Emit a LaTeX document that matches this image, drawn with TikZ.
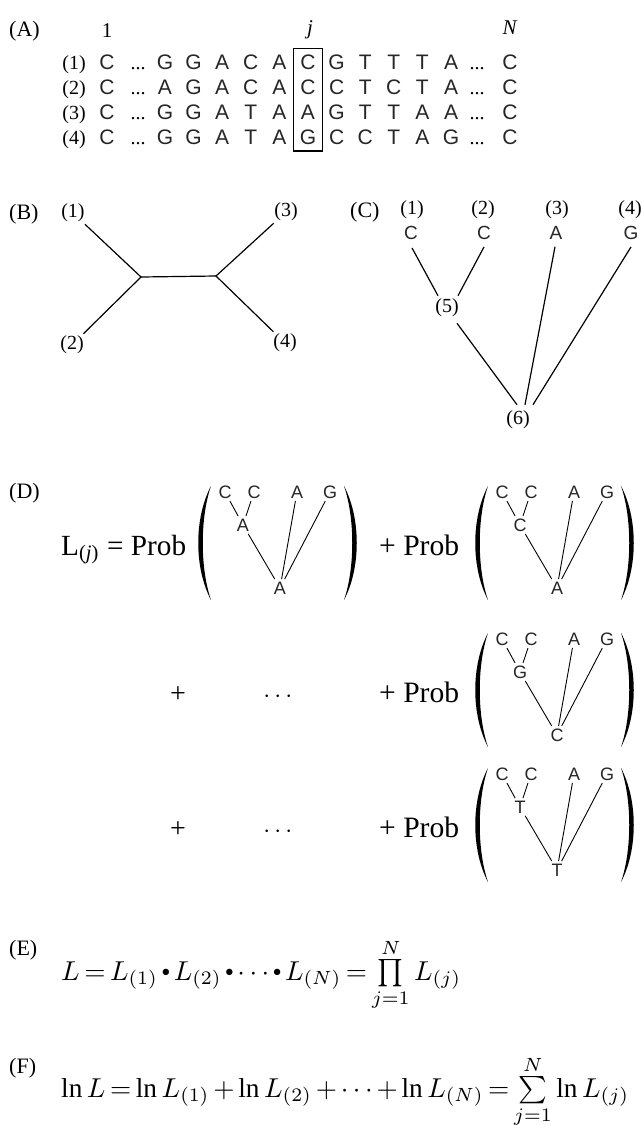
\documentclass[tikz,border=0pt]{standalone}
\usepackage{amsmath}
\usepackage{graphicx}
\usepackage{fontspec}
\setmainfont{Liberation Serif}
\newfontfamily\seqfont{Liberation Sans}
\usetikzlibrary{fit}

\newcommand\sbul{\mathbin{\vcenter{\hbox{\scalebox{0.6}{$\bullet$}}}}}

\newcommand\SeqRow[3]{%
  \node[rowlab] (r#1) at (74,#2) {(#1)};
  \node[seq] (s#1-0) at (107,#2) {C};
  \node[sdots] (d#1a) at (138,#2) {...};
  \foreach \L [count=\i] in {#3} {\node[seq] (s#1-\i) at ({165+28.6*(\i-1)},#2) {\L};}
  \node[sdots] (d#1b) at (477,#2) {...};
  \node[seq] (s#1-12) at (510,#2) {C};
}

\newcommand\DTree[5]{%
  \begin{scope}[shift={(#2,#3)}]
    \pic at (0,0) {lpar};
    \pic at (133,0) {rpar};
    \node[tl] (#1c1) at (14,-51) {C};
    \node[tl] (#1c2) at (43,-51) {C};
    \node[tl] (#1a) at (86,-51) {A};
    \node[tl] (#1g) at (119,-51) {G};
    \node[tl] (#1i) at (32,-18) {#4};
    \node[tl] (#1r) at (69,45) {#5};
    \draw[tline] (#1c1) -- (#1i);
    \draw[tline] (#1c2) -- (#1i);
    \draw[tline] (#1i) -- (#1r);
    \draw[tline] (#1a) -- (#1r);
    \draw[tline] (#1g) -- (#1r);
  \end{scope}}

\begin{document}
\begin{tikzpicture}[x=1pt,y=-1pt,
  lab/.style={font=\fontsize{22}{24}\selectfont, inner sep=0pt, anchor=west},
  toplab/.style={font=\fontsize{21}{24}\selectfont, inner sep=0pt},
  rowlab/.style={font=\fontsize{20}{24}\selectfont, inner sep=0pt, anchor=base},
  seq/.style={font=\seqfont\fontsize{21}{24}\selectfont, inner sep=0pt, anchor=base, text=black!85},
  sdots/.style={font=\fontsize{20}{24}\selectfont, inner sep=0pt, anchor=base},
  num/.style={font=\fontsize{20}{24}\selectfont, inner sep=2pt},
  cl/.style={font=\seqfont\fontsize{19}{22}\selectfont, inner sep=0pt, text=black!85},
  tl/.style={font=\seqfont\fontsize{18}{20}\selectfont, inner sep=2.5pt, text=black!85},
  edge/.style={line width=1.2pt},
  tline/.style={line width=0.9pt},
  eqtext/.style={inner sep=0pt, anchor=base west},
  lpar/.pic={\fill (0,-57) .. controls (-17,-25) and (-17,25) .. (0,57) .. controls (-11,25) and (-11,-25) .. (0,-57) -- cycle;},
  rpar/.pic={\fill (0,-57) .. controls (17,-25) and (17,25) .. (0,57) .. controls (11,25) and (11,-25) .. (0,-57) -- cycle;}
  ]
\fill[white] (0,0) rectangle (642,1125);
\useasboundingbox (0,0) rectangle (642,1125);

% ---------- (A) ----------
\node[lab] (labA) at (9,31) {(A)};
\node[toplab] (one) at (107,31) {1};
\node[toplab] (jcol) at (310,30) {\textit{j}};
\node[toplab] (Ncol) at (510,28) {\textit{N}};
\SeqRow{1}{69.5}{G,G,A,C,A,C,G,T,T,T,A}
\SeqRow{2}{94.5}{A,G,A,C,A,C,C,T,C,T,A}
\SeqRow{3}{119.5}{G,G,A,T,A,A,G,T,T,A,A}
\SeqRow{4}{144.5}{G,G,A,T,A,G,C,C,T,A,G}
\node[draw, line width=1.2pt, fit=(s1-6)(s4-6), inner xsep=6.5pt, inner ysep=6pt] (colbox) {};

% ---------- (B) ----------
\node[lab] (labB) at (9,214) {(B)};
\node[num] (b1) at (73,213) {(1)};
\node[num] (b2) at (72,345) {(2)};
\node[num] (b3) at (286,212) {(3)};
\node[num] (b4) at (285,343) {(4)};
\coordinate (jl) at (141,277);
\coordinate (jr) at (216,276);
\draw[edge] (b1) -- (jl) -- (b2);
\draw[edge] (jl) -- (jr);
\draw[edge] (b3) -- (jr) -- (b4);

% ---------- (C) ----------
\node[lab] (labC) at (350,212) {(C)};
\node[num] (t1) at (412,210) {(1)};
\node[num] (t2) at (483,210) {(2)};
\node[num] (t3) at (557,210) {(3)};
\node[num] (t4) at (630,210) {(4)};
\node[cl] (c1) at (411,233) {C};
\node[cl] (c2) at (484,233) {C};
\node[cl] (c3) at (556,233) {A};
\node[cl] (c4) at (631,233) {G};
\node[num, inner sep=0pt] (n5) at (447,308) {(5)};
\node[num, inner sep=0pt] (n6) at (518,420) {(6)};
\draw[edge] ([xshift=1pt,yshift=-8pt]c1.south) -- ([xshift=-9pt,yshift=3pt]n5.north);
\draw[edge] ([yshift=-7pt]c2.south) -- ([xshift=11pt,yshift=3pt]n5.north);
\draw[edge] ([xshift=10pt,yshift=-6pt]n5.south) -- ([xshift=-1pt,yshift=6pt]n6.north);
\draw[edge] ([xshift=-1pt,yshift=-7pt]c3.south) -- ([xshift=7pt,yshift=6pt]n6.north);
\draw[edge] ([yshift=-7pt]c4.south) -- ([xshift=15pt,yshift=6pt]n6.north);

% ---------- (D) ----------
\node[lab] (labD) at (9,493) {(D)};
\node[eqtext] (Lj) at (61,555) {\resizebox{125pt}{!}{L\textsubscript{(\textit{j})} = Prob}};
\DTree{p}{211}{543}{A}{A}
\node[eqtext] (pr1) at (379,555) {\resizebox{80pt}{!}{+ Prob}};
\DTree{q}{488}{543}{C}{A}

\node[font=\fontsize{28}{30}\selectfont, inner sep=0pt, anchor=base] (pl2) at (178,702) {+};
\node[font=\fontsize{28}{30}\selectfont, inner sep=0pt, anchor=base] (dt2) at (280,702) {$\cdots$};
\node[eqtext] (pr2) at (379,702) {\resizebox{80pt}{!}{+ Prob}};
\DTree{r}{488}{690}{G}{C}

\node[font=\fontsize{28}{30}\selectfont, inner sep=0pt, anchor=base] (pl3) at (178,837) {+};
\node[font=\fontsize{28}{30}\selectfont, inner sep=0pt, anchor=base] (dt3) at (280,837) {$\cdots$};
\node[eqtext] (pr3) at (379,837) {\resizebox{80pt}{!}{+ Prob}};
\DTree{s}{488}{825}{T}{T}

% ---------- (E) ----------
\node[lab] (labE) at (9,950) {(E)};
\node[eqtext] (eqE) at (61,980) {\resizebox{400pt}{!}{\thickmuskip=3mu\medmuskip=2.5mu $L = L_{(1)} \sbul L_{(2)} \sbul \cdots \sbul L_{(N)} = \prod\limits_{j=1}^{N} L_{(j)}$}};

% ---------- (F) ----------
\node[lab] (labF) at (9,1068) {(F)};
\node[eqtext] (eqF) at (61,1097) {\resizebox{568pt}{!}{\thickmuskip=3mu\medmuskip=2.5mu $\ln L = \ln L_{(1)} + \ln L_{(2)} + \cdots + \ln L_{(N)} = \sum\limits_{j=1}^{N} \ln L_{(j)}$}};
\end{tikzpicture}
\end{document}
